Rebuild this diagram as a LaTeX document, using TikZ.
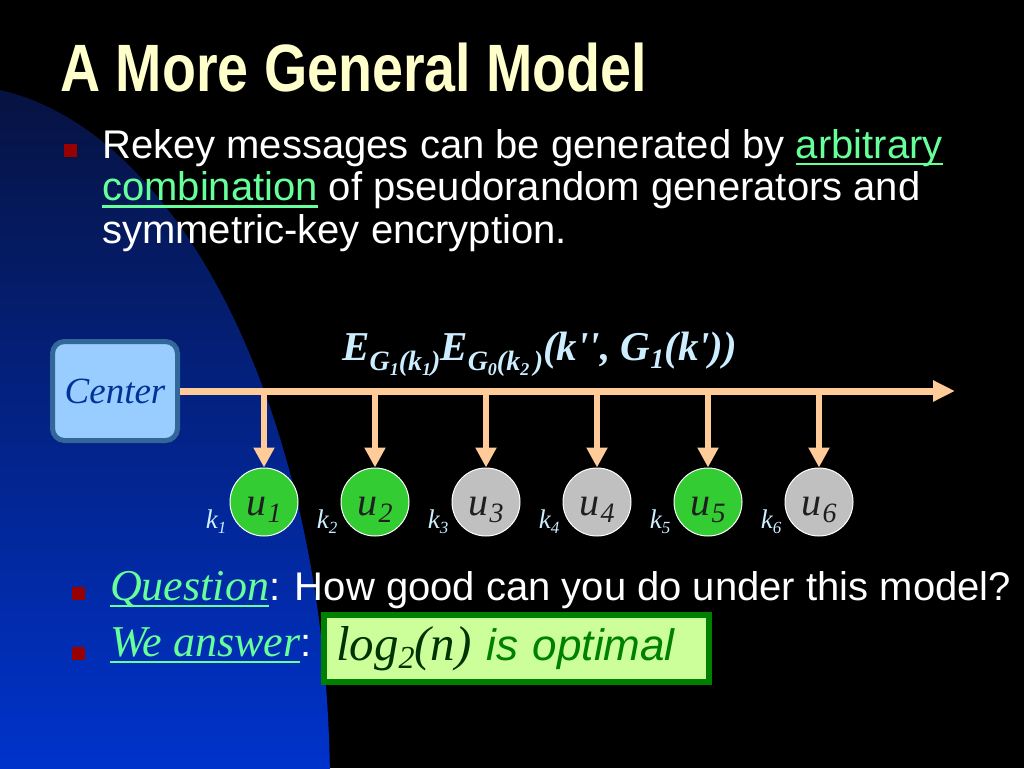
\documentclass[tikz,border=0pt]{standalone}
\usepackage{fontspec}
\setmainfont{Liberation Serif}
\setsansfont{Liberation Sans}
\newfontfamily\titlefont[FakeStretch=0.83]{Liberation Sans}
\usetikzlibrary{positioning, arrows.meta}

\definecolor{titleyellow}{HTML}{FFFFCC}
\definecolor{linkgreen}{HTML}{66FF99}
\definecolor{bulletred}{HTML}{990000}
\definecolor{peach}{HTML}{FFCC99}
\definecolor{msgblue}{HTML}{CCEEFF}
\definecolor{ctrfill}{HTML}{99CCFF}
\definecolor{ctrdraw}{HTML}{336699}
\definecolor{ctrtext}{HTML}{003399}
\definecolor{usergreen}{HTML}{33CC33}
\definecolor{usergray}{HTML}{C0C0C0}
\definecolor{answerfill}{HTML}{CCFF99}
\definecolor{answerdraw}{HTML}{008000}
\definecolor{logdark}{HTML}{003300}
\definecolor{blobtop}{HTML}{06123F}
\definecolor{blobbottom}{HTML}{0033CC}

\newcommand\linkul[1]{\setbox0=\hbox{#1}\rlap{\rule[-7pt]{\wd0}{2.5pt}}\box0}
\newcommand\lowsub[3]{\raisebox{-#2}{\fontsize{#1}{#1}\selectfont #3}}
\newcommand\usr[1]{u\kern1pt\lowsub{28}{7pt}{#1}}
\newcommand\keylab[1]{k\lowsub{17}{5pt}{#1}}

\begin{document}
\begin{tikzpicture}[x=1pt, y=-1pt, >=Stealth,
    bullet/.style={fill=bulletred, minimum size=13pt, inner sep=0pt},
    body/.style={text=white, font=\sffamily\fontsize{40}{42.5}\selectfont, inner sep=0pt, anchor=base west, align=left},
    usernode/.style={circle, draw=white, line width=1pt, minimum size=68pt, inner sep=0pt, text=black!88,
        font=\fontsize{40}{40}\selectfont\itshape, text height=26pt, text depth=0pt},
    greenuser/.style={usernode, fill=usergreen},
    grayuser/.style={usernode, fill=usergray},
    keylabel/.style={text=msgblue, font=\fontsize{27}{27}\selectfont\itshape, inner sep=0pt, anchor=base east},
    msg/.style={draw=peach, line width=7pt, -{Triangle[length=22pt, width=20pt]}},
    drop/.style={draw=peach, line width=6pt, -{Triangle[length=20pt, width=20pt]}},
    answerbox/.style={draw=answerdraw, line width=6pt, fill=answerfill, minimum width=385pt, minimum height=67pt,
        inner xsep=12pt, text width=361pt, align=left, font=\fontsize{44}{50}\selectfont\itshape}]

\useasboundingbox (0,0) rectangle (1024,768);

% slide background
\fill[black] (0,0) rectangle (1024,768);
\begin{scope}
    \clip (-45,790) ellipse [x radius=375, y radius=705];
    \fill[top color=blobtop, bottom color=blobbottom] (0,80) rectangle (400,768);
\end{scope}

% title and first bullet
\node[text=titleyellow, font=\titlefont\bfseries\fontsize{67}{67}\selectfont, anchor=base west, inner sep=0pt] (title) at (60,91) {A More General Model};
\node[bullet] (b1) at (70,150) {};
\node[body] (rekey) at (102,243) {Rekey messages can be generated by {\color{linkgreen}\linkul{arbitrary}}\\
    {\color{linkgreen}\linkul{combination}} of pseudorandom generators and\\
    symmetric-key encryption.};

% the center and its rekey message
\node[draw=ctrdraw, line width=5pt, fill=ctrfill, rounded corners=12pt, minimum width=125pt, minimum height=99pt,
    text=ctrtext, font=\fontsize{37}{37}\selectfont\itshape] (ctr) at (115,391) {Center};
\coordinate (msgend) at (955,391);
\draw[msg] (ctr.east) -- (msgend);
\node[text=msgblue, font=\bfseries\itshape\fontsize{41}{41}\selectfont, anchor=base west, inner sep=0pt] (rekeymsg) at (342,360)
    {E\lowsub{28}{10pt}{G\lowsub{18}{5pt}{1}(k\lowsub{18}{5pt}{1})}E\lowsub{28}{10pt}{G\lowsub{18}{5pt}{0}(k\lowsub{18}{5pt}{2}\,)}(k\textquotesingle\textquotesingle, G\lowsub{28}{8pt}{1}(k\textquotesingle))};

% users and their keys
\foreach \i/\kind in {1/greenuser, 2/greenuser, 3/grayuser, 4/grayuser, 5/greenuser, 6/grayuser} {
    \node[\kind] (u\i) at ({264+111*(\i-1)},502) {\usr{\i}};
    \node[keylabel] (k\i) at ([xshift=-3pt, yshift=-26pt]u\i.west) {\keylab{\i}};
    \draw[drop] (u\i |- ctr) -- (u\i.north);
}

% question and answer
\node[bullet] (b2) at (78,593) {};
\node[body] (question) at (110,600) {{\rmfamily\itshape\fontsize{44}{44}\selectfont\color{linkgreen}\linkul{Question}}: How good can you do under this model?};
\node[bullet] (b3) at (78,653) {};
\node[body] (answer) at (110,656) {{\rmfamily\itshape\fontsize{44}{44}\selectfont\color{linkgreen}\linkul{We answer}}:};
\node[answerbox] (optimal) at (516.5,648.5) {{\color{logdark}\fontsize{49}{50}\selectfont log\lowsub{32}{8pt}{2}(n)} {\color{answerdraw}\sffamily is optimal}};

\end{tikzpicture}
\end{document}
